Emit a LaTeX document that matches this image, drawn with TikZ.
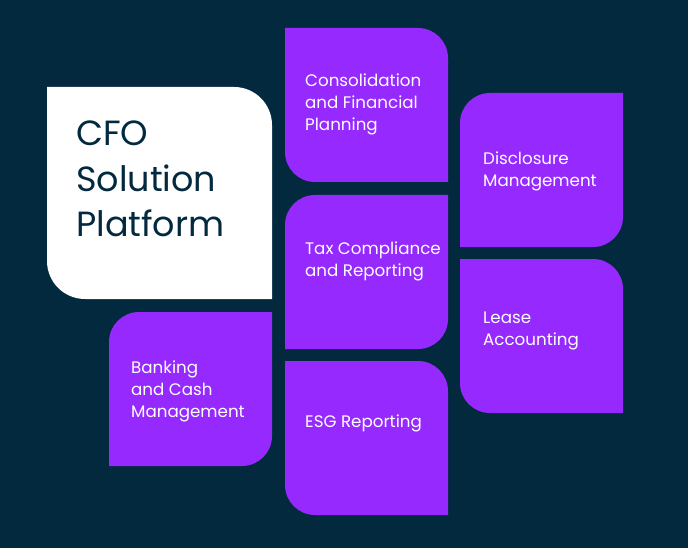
\documentclass[tikz,border=0pt]{standalone}
\usepackage{fontspec}
\setmainfont{Poppins}
\usepackage{xcolor}
\usepackage{tikz}
\usetikzlibrary{positioning}

\definecolor{navy}{HTML}{03293F}
\definecolor{violet}{HTML}{9629FE}

\begin{document}
\begin{tikzpicture}[
  x=1pt, y=-1pt,
  leaf/.style={fill=violet},
  hub/.style={fill=white},
  leaftext/.style={anchor=west, inner sep=0pt, align=left, text=white,
                   font=\fontsize{16.7}{22}\selectfont},
  hubtext/.style={anchor=west, inner sep=0pt, align=left, text=navy,
                  font=\fontsize{35}{45.5}\selectfont}
]

% ── Background ──
\fill[navy] (0,0) rectangle (688,548);
\useasboundingbox (0,0) rectangle (688,548);

% ── Platform tile ──
\fill[hub] (47,87) -- (234,87) arc[start angle=-90, end angle=0, radius=38]
  -- (272,299) -- (85,299) arc[start angle=90, end angle=180, radius=38] -- cycle;
\node[hubtext] (cfo) at (76,179) {CFO\\Solution\\Platform};

% ── Middle column ──
\fill[leaf] (285,28) -- (418,28) arc[start angle=-90, end angle=0, radius=30]
  -- (448,182) -- (315,182) arc[start angle=90, end angle=180, radius=30] -- cycle;
\fill[leaf] (285,225) arc[start angle=180, end angle=270, radius=30]
  -- (448,195) -- (448,319) arc[start angle=0, end angle=90, radius=30] -- (285,349) -- cycle;
\fill[leaf] (285,361) -- (418,361) arc[start angle=-90, end angle=0, radius=30]
  -- (448,515) -- (315,515) arc[start angle=90, end angle=180, radius=30] -- cycle;

\node[leaftext] (consol) at (305,104) {Consolidation\\and Financial\\Planning};
\node[leaftext] (tax) at (305,261) {Tax Compliance\\and Reporting};
\node[leaftext] (esg) at (305,423) {ESG Reporting};

% ── Right column ──
\fill[leaf] (460,123) arc[start angle=180, end angle=270, radius=30]
  -- (623,93) -- (623,217) arc[start angle=0, end angle=90, radius=30] -- (460,247) -- cycle;
\fill[leaf] (460,259) -- (593,259) arc[start angle=-90, end angle=0, radius=30]
  -- (623,413) -- (490,413) arc[start angle=90, end angle=180, radius=30] -- cycle;

\node[leaftext] (disc) at (483,171) {Disclosure\\Management};
\node[leaftext] (lease) at (483,331) {Lease\\Accounting};

% ── Left column ──
\fill[leaf] (109,342) arc[start angle=180, end angle=270, radius=30]
  -- (272,312) -- (272,436) arc[start angle=0, end angle=90, radius=30] -- (109,466) -- cycle;
\node[leaftext] (bank) at (131,391) {Banking\\and Cash\\Management};

\end{tikzpicture}
\end{document}
